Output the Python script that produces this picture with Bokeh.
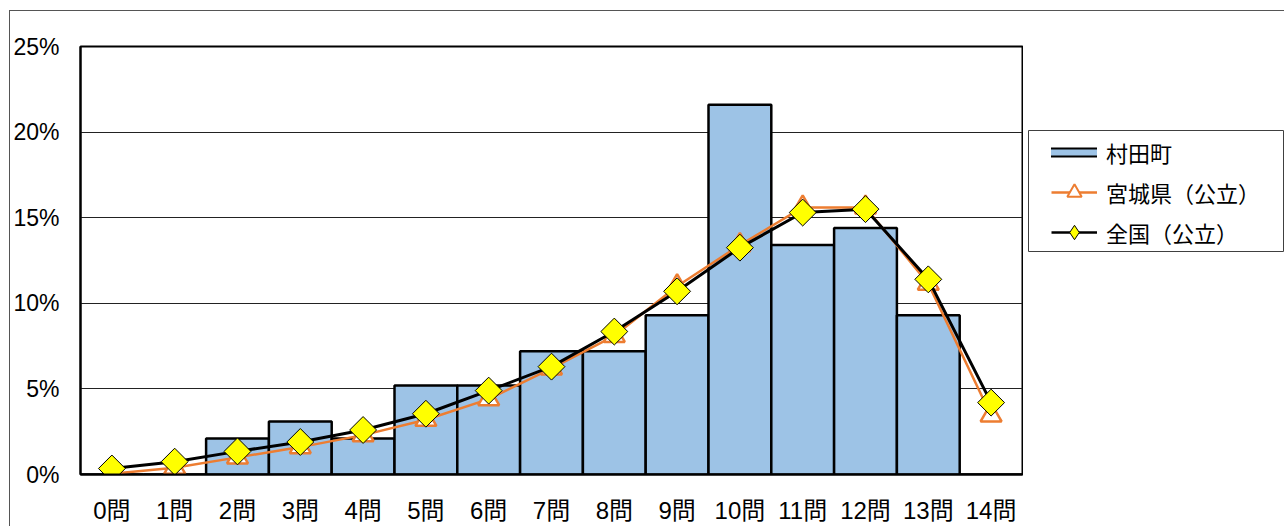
from bokeh.plotting import figure
from bokeh.layouts import row
from bokeh.models import FactorRange, Range1d, Legend, LegendItem, FixedTicker
from bokeh.embed import file_html
from bokeh.resources import INLINE
import numpy as np

cats = ["0問", "1問", "2問", "3問", "4問", "5問", "6問", "7問", "8問", "9問",
        "10問", "11問", "12問", "13問", "14問"]
murata = [0.0, 0.0, 2.1, 3.1, 2.1, 5.2, 5.2, 7.2, 7.2, 9.3, 21.6, 13.4, 14.4, 9.3, 0.0]
miyagi = [0.05, 0.4, 1.0, 1.6, 2.3, 3.2, 4.4, 6.2, 8.1, 11.0, 13.4, 15.6, 15.6, 11.15, 3.45]
national = [0.35, 0.75, 1.35, 1.9, 2.6, 3.55, 4.9, 6.3, 8.35, 10.7, 13.25, 15.3, 15.5, 11.4, 4.2]
y_ticks = [0, 5, 10, 15, 20, 25]
legend_labels = ["村田町", "宮城県（公立）", "全国（公立）"]

FONT = "Liberation Sans, Noto Sans CJK JP, sans-serif"
JP = "Noto Sans CJK JP, sans-serif"
BAR = "#9DC3E6"
ORANGE = "#ED7D31"
BORDER = "1px solid #555555"

# ---------------- main chart ----------------
W, H = 1014, 516                     # canvas starts at page (10, 11)
FL, FR, FT, FB = 70, 1012, 35, 463   # frame edges in canvas px
p = figure(x_range=FactorRange(factors=cats), y_range=Range1d(0, 25),
           width=W, height=H, output_backend="svg", toolbar_location=None,
           min_border_left=FL, min_border_right=W - FR, min_border_top=FT,
           min_border_bottom=H - FB)
p.frame_align = False
p.margin = (10, 0, 0, 9)
p.styles = {"border-left": BORDER, "border-top": BORDER}
p.x_range.range_padding = 0
p.background_fill_color = "white"
p.border_fill_color = "white"
p.outline_line_color = "black"
p.outline_line_width = 2

p.vbar(x=cats, top=murata, width=1.0, fill_color=BAR, line_color="black",
       line_width=2.5)
p.line(x=cats, y=miyagi, line_color=ORANGE, line_width=2.5)
p.scatter(x=cats, y=miyagi, marker="triangle", size=21, fill_color="white",
          line_color=ORANGE, line_width=2.5)
p.line(x=cats, y=national, line_color="black", line_width=3)
p.scatter(x=cats, y=national, marker="square", angle=np.pi / 4, size=19,
          fill_color="#FFFF00", line_color="black", line_width=1)

p.xgrid.grid_line_color = None
p.ygrid.grid_line_color = "#222222"
p.ygrid.grid_line_width = 1
p.yaxis.ticker = FixedTicker(ticks=y_ticks)
p.yaxis.major_label_overrides = {t: f"{t}%" for t in y_ticks}
p.yaxis.axis_line_color = "black"
p.yaxis.axis_line_width = 2
p.yaxis.major_tick_line_color = None
p.yaxis.minor_tick_line_color = None
p.yaxis.major_label_standoff = 15
p.yaxis.major_label_text_font = FONT
p.yaxis.major_label_text_font_size = "23px"
p.yaxis.major_label_text_color = "black"

p.xaxis.axis_line_color = "black"
p.xaxis.axis_line_width = 2
p.xaxis.major_tick_line_color = None
p.xaxis.minor_tick_line_color = None
p.xaxis.major_label_standoff = 16
p.xaxis.major_label_text_font = FONT
p.xaxis.major_label_text_font_size = "24px"
p.xaxis.major_label_text_color = "black"

# ---------------- legend panel ----------------
LW = 1285 - 1024
pl = figure(width=LW, height=H, x_range=Range1d(0, 1), y_range=Range1d(0, 1),
            x_axis_type=None, y_axis_type=None, toolbar_location=None,
            output_backend="svg", min_border_left=5, min_border_right=0,
            min_border_top=119, min_border_bottom=H - 240)
pl.frame_align = False
pl.margin = (10, 0, 0, 0)
pl.styles = {"border-top": BORDER}
pl.outline_line_color = "#404040"
pl.outline_line_width = 1
pl.background_fill_color = "white"
pl.border_fill_color = "white"

nan = [np.nan]
b1 = pl.line(x=nan, y=nan, line_color="black", line_width=10, line_cap="square")
b2 = pl.line(x=nan, y=nan, line_color=BAR, line_width=6, line_cap="square")
m1 = pl.line(x=nan, y=nan, line_color=ORANGE, line_width=2.5)
m2 = pl.scatter(x=nan, y=nan, marker="triangle", fill_color="white",
                line_color=ORANGE, line_width=2)
n1 = pl.line(x=nan, y=nan, line_color="black", line_width=2.5)
n2 = pl.scatter(x=nan, y=nan, marker="diamond", fill_color="#FFFF00",
                line_color="black", line_width=1)

legend = Legend(items=[
    LegendItem(label=legend_labels[0], renderers=[b1, b2]),
    LegendItem(label=legend_labels[1], renderers=[m1, m2]),
    LegendItem(label=legend_labels[2], renderers=[n1, n2]),
], location=(23, 1))
legend.label_text_font = JP
legend.label_text_font_size = "22px"
legend.label_text_color = "black"
legend.glyph_width = 46
legend.glyph_height = 36
legend.label_height = 36
legend.spacing = 4
legend.padding = 0
legend.margin = 0
legend.label_standoff = 9
legend.border_line_color = None
legend.background_fill_alpha = 0
pl.add_layout(legend, "center")

layout = row(p, pl)
open("out.html", "w").write(file_html(layout, INLINE))
